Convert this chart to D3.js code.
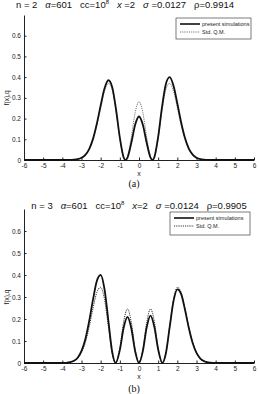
<!DOCTYPE html>
<html>
<head>
<meta charset="utf-8">
<script src="https://cdn.jsdelivr.net/npm/d3@7"></script>
<style>
  body { margin: 0; background: #fff; }
  svg { display: block; font-family: "Liberation Sans", Arial, sans-serif; }
  .axis path, .axis line { stroke: #222; }
  .axis text { font-size: 6.5px; fill: #222; }
</style>
</head>
<body>
<svg width="259" height="394"></svg>
<script>
// x grid and values for panel (a), n = 2
const xA = [-6, -4, -3.6, -3.4, -3.2, -3.0, -2.8, -2.6, -2.4, -2.2, -2.0, -1.8, -1.6, -1.4, -1.2, -1.0, -0.8, -0.71, -0.6, -0.4, -0.2,
  0, 0.2, 0.4, 0.6, 0.71, 0.8, 1.0, 1.2, 1.4, 1.6, 1.8, 2.0, 2.2, 2.4, 2.6, 2.8, 3.0, 3.2, 3.4, 3.6, 4, 6];
const simA = [0, 0, 0.0004, 0.0014, 0.004, 0.0105, 0.025, 0.053, 0.102, 0.175, 0.263, 0.345, 0.385, 0.353, 0.245, 0.108, 0.012, 0, 0.012, 0.083, 0.17,
  0.21, 0.17, 0.083, 0.012, 0, 0.013, 0.112, 0.255, 0.366, 0.40, 0.358, 0.273, 0.181, 0.106, 0.055, 0.026, 0.011, 0.004, 0.0014, 0.0004, 0, 0];
const qmA = [0, 0, 0.0004, 0.0013, 0.0038, 0.0101, 0.024, 0.051, 0.098, 0.168, 0.253, 0.332, 0.370, 0.339, 0.236, 0.104, 0.012, 0, 0.015, 0.111, 0.229,
  0.282, 0.229, 0.111, 0.015, 0, 0.012, 0.104, 0.236, 0.339, 0.370, 0.332, 0.253, 0.168, 0.098, 0.051, 0.024, 0.0101, 0.0038, 0.0013, 0.0004, 0, 0];

// x grid and values for panel (b), n = 3
const xB = [-6, -4, -3.8, -3.6, -3.4, -3.2, -3.0, -2.8, -2.6, -2.4, -2.2, -2.0, -1.8, -1.6, -1.4, -1.22, -1.0, -0.8, -0.6, -0.4, -0.2,
  0, 0.2, 0.4, 0.6, 0.8, 1.0, 1.22, 1.4, 1.6, 1.8, 2.0, 2.2, 2.4, 2.6, 2.8, 3.0, 3.2, 3.4, 3.6, 3.8, 4, 6];
const simB = [0, 0.0003, 0.001, 0.0035, 0.0098, 0.024, 0.055, 0.108, 0.19, 0.288, 0.373, 0.40, 0.336, 0.194, 0.051, 0, 0.059, 0.16, 0.21, 0.157, 0.053,
  0, 0.054, 0.161, 0.215, 0.164, 0.061, 0, 0.043, 0.163, 0.281, 0.335, 0.313, 0.242, 0.159, 0.091, 0.046, 0.020, 0.0082, 0.003, 0.001, 0.0003, 0];
const qmB = [0, 0.0003, 0.001, 0.003, 0.0084, 0.021, 0.047, 0.093, 0.163, 0.248, 0.321, 0.344, 0.289, 0.167, 0.044, 0, 0.069, 0.188, 0.246, 0.184, 0.062,
  0, 0.062, 0.184, 0.246, 0.188, 0.069, 0, 0.044, 0.167, 0.289, 0.344, 0.321, 0.248, 0.163, 0.093, 0.047, 0.021, 0.0084, 0.003, 0.001, 0.0003, 0];

const xTicks = d3.range(-6, 7, 1);
const yTicks = [0, 0.1, 0.2, 0.3, 0.4, 0.5, 0.6];
const legendLabels = ["present simulations", "Std. Q.M."];

const svg = d3.select("svg");

function drawPanel(opt) {
  const xScale = d3.scaleLinear().domain([-6, 6]).range([24, 254]);
  const yScale = d3.scaleLinear().domain([0, 0.7]).range([opt.y0, opt.y1]);
  const g = svg.append("g");

  // title
  const t = g.append("text")
    .attr("x", opt.titleX).attr("y", opt.titleY)
    .attr("text-anchor", "middle")
    .style("font-size", "9.5px").style("white-space", "pre")
    .attr("fill", "#111");
  t.append("tspan").text(`n = ${opt.n}   `);
  t.append("tspan").style("font-style", "italic").text("α");
  t.append("tspan").text("=601   cc=10");
  t.append("tspan").attr("dy", -4).style("font-size", "6px").text("8");
  t.append("tspan").attr("dy", 4).text("   ");
  t.append("tspan").style("font-style", "italic").text("x");
  t.append("tspan").text(`${opt.xEq}   `);
  t.append("tspan").style("font-style", "italic").text("σ");
  t.append("tspan").text(` =${opt.sigma}   ρ=${opt.rho}`);

  // axes (plain hyphen for negatives, like the original)
  g.append("g").attr("class", "axis")
    .attr("transform", `translate(0,${opt.y0})`)
    .call(d3.axisBottom(xScale).tickValues(xTicks).tickSizeInner(-2.5).tickSizeOuter(0).tickPadding(3)
      .tickFormat(d => String(d)));
  g.append("g").attr("class", "axis")
    .attr("transform", `translate(24,0)`)
    .call(d3.axisLeft(yScale).tickValues(yTicks).tickSizeInner(-2.5).tickSizeOuter(0).tickPadding(3)
      .tickFormat(d => d === 0 ? "0" : d3.format(".1f")(d)));

  g.append("text")
    .attr("transform", `translate(9,${yScale(0.3)}) rotate(-90)`)
    .attr("text-anchor", "middle")
    .style("font-size", "6.5px").attr("fill", "#222")
    .text("f(x),q");

  g.append("text")
    .attr("x", 139).attr("y", opt.y0 + 16)
    .attr("text-anchor", "middle")
    .style("font-size", "7px").attr("fill", "#222")
    .text("x");

  g.append("text")
    .attr("x", 134).attr("y", opt.capY)
    .attr("text-anchor", "middle")
    .style("font-family", "'Liberation Serif', serif").style("font-size", "10px")
    .attr("fill", "#111")
    .text(opt.cap);

  const line = d3.line()
    .x(d => xScale(d[0]))
    .y(d => yScale(d[1]))
    .curve(d3.curveMonotoneX);

  g.append("path")
    .datum(opt.xs.map((x, i) => [x, opt.qm[i]]))
    .attr("fill", "none")
    .attr("stroke", opt.qmColor)
    .attr("stroke-width", 1)
    .attr("stroke-dasharray", "1.2,1")
    .attr("d", line);

  g.append("path")
    .datum(opt.xs.map((x, i) => [x, opt.sim[i]]))
    .attr("fill", "none")
    .attr("stroke", "#111")
    .attr("stroke-width", 1.8)
    .attr("d", line);

  // legend
  const lg = g.append("g").attr("transform", `translate(${opt.lx},${opt.ly})`);
  lg.append("rect")
    .attr("width", opt.lw).attr("height", opt.lh)
    .attr("fill", "#fff").attr("stroke", "#444").attr("stroke-width", 0.7);
  legendLabels.forEach((lab, i) => {
    const yy = 6 + i * 8;
    lg.append("line")
      .attr("x1", 4).attr("x2", 24).attr("y1", yy).attr("y2", yy)
      .attr("stroke", i === 0 ? "#111" : opt.qmColor)
      .attr("stroke-width", i === 0 ? 1.6 : 1)
      .attr("stroke-dasharray", i === 0 ? null : "1.2,1");
    lg.append("text")
      .attr("x", 26).attr("y", yy + 2)
      .style("font-size", "5.5px").attr("fill", "#222")
      .text(lab);
  });
}

drawPanel({
  n: 2, xEq: " =2", sigma: "0.0127", rho: "0.9914",
  titleX: 125, titleY: 8,
  y0: 160, y1: 15,
  xs: xA, sim: simA, qm: qmA, qmColor: "#777",
  lx: 176, ly: 18, lw: 75, lh: 21,
  cap: "(a)", capY: 187
});

drawPanel({
  n: 3, xEq: "=2", sigma: "0.0124", rho: "0.9905",
  titleX: 139, titleY: 209,
  y0: 363, y1: 209,
  xs: xB, sim: simB, qm: qmB, qmColor: "#333",
  lx: 170, ly: 212, lw: 80, lh: 23,
  cap: "(b)", capY: 392
});
</script>
</body>
</html>
